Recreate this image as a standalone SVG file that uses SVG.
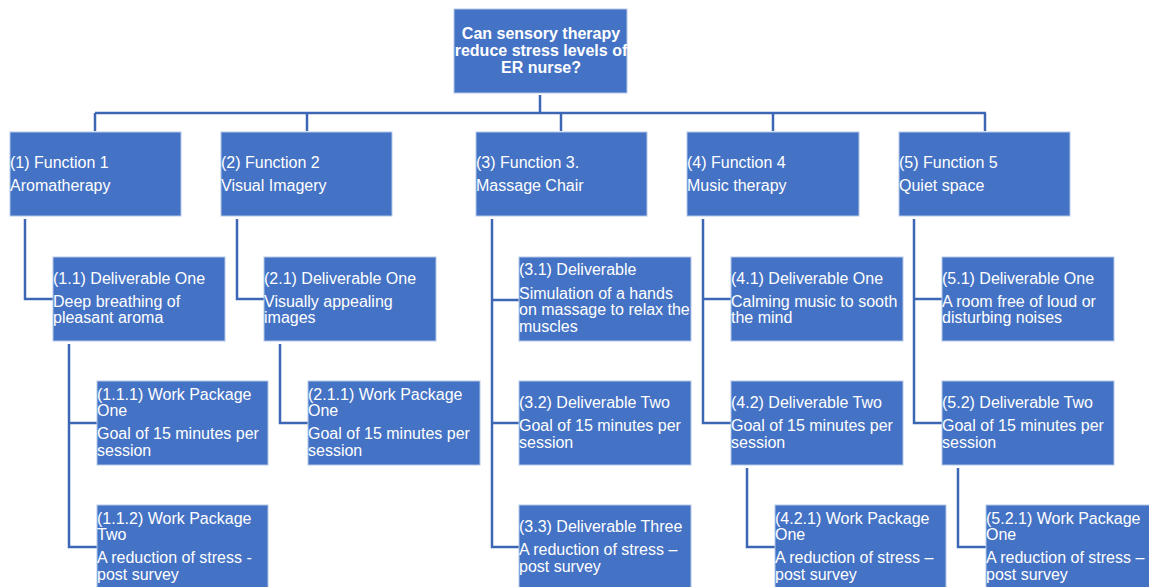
<svg xmlns="http://www.w3.org/2000/svg" width="1149" height="587" viewBox="0 0 1149 587">
<style>
.b{fill:#4472C4;stroke:#B4C7E7;stroke-width:1}
.t{font-family:"Liberation Sans",Arial,sans-serif;font-size:16px;fill:#fff}
.r{font-family:"Liberation Sans",Arial,sans-serif;font-size:16px;font-weight:bold;fill:#fff;text-anchor:middle}
.c{fill:none;stroke:#3D67B5;stroke-width:2.5}
</style>
<rect width="1149" height="587" fill="#fff"/>
<g id="connectors">
<path class="c" d="M540 95V113M95 113H986M95 113V131M307 113V131M561 113V131M773 113V131M985 113V131"/>
<path class="c" d="M25 219V299H53"/>
<path class="c" d="M69 344V547H97M69 423H97"/>
<path class="c" d="M237 219V299H264"/>
<path class="c" d="M280 344V423H308"/>
<path class="c" d="M492 219V547H519M492 300H519M492 423H519"/>
<path class="c" d="M703 219V423H731M703 299H731"/>
<path class="c" d="M747 468V547H775"/>
<path class="c" d="M914 219V423H942M914 299H942"/>
<path class="c" d="M958 468V547H986"/>
</g>
<g id="root"><rect class="b" x="454" y="9" width="173" height="84"/>
<text class="r" x="541" y="39">Can sensory therapy</text><text class="r" x="541" y="56">reduce stress levels of</text><text class="r" x="541" y="73">ER nurse?</text></g>
<g id="f1"><rect class="b" x="10" y="132" width="171" height="84"/><text class="t" x="10" y="168">(1) Function 1</text><text class="t" x="10" y="191">Aromatherapy</text></g>
<g id="f2"><rect class="b" x="221" y="132" width="171" height="84"/><text class="t" x="221" y="168">(2) Function 2</text><text class="t" x="221" y="191">Visual Imagery</text></g>
<g id="f3"><rect class="b" x="476" y="132" width="171" height="84"/><text class="t" x="476" y="168">(3) Function 3.</text><text class="t" x="476" y="191">Massage Chair</text></g>
<g id="f4"><rect class="b" x="687" y="132" width="172" height="84"/><text class="t" x="687" y="168">(4) Function 4</text><text class="t" x="687" y="191">Music therapy</text></g>
<g id="f5"><rect class="b" x="899" y="132" width="171" height="84"/><text class="t" x="899" y="168">(5) Function 5</text><text class="t" x="899" y="191">Quiet space</text></g>
<g id="d11"><rect class="b" x="53" y="257" width="172" height="84"/><text class="t" x="53" y="284">(1.1) Deliverable One</text><text class="t" x="53" y="307">Deep breathing of</text><text class="t" x="53" y="323">pleasant aroma</text></g>
<g id="d21"><rect class="b" x="264" y="257" width="172" height="84"/><text class="t" x="264" y="284">(2.1) Deliverable One</text><text class="t" x="264" y="307">Visually appealing</text><text class="t" x="264" y="323">images</text></g>
<g id="d31"><rect class="b" x="519" y="257" width="172" height="84"/><text class="t" x="519" y="275">(3.1) Deliverable</text><text class="t" x="519" y="299">Simulation of a hands</text><text class="t" x="519" y="315">on massage to relax the</text><text class="t" x="519" y="332">muscles</text></g>
<g id="d41"><rect class="b" x="731" y="257" width="172" height="84"/><text class="t" x="731" y="284">(4.1) Deliverable One</text><text class="t" x="731" y="307">Calming music to sooth</text><text class="t" x="731" y="323">the mind</text></g>
<g id="d51"><rect class="b" x="942" y="257" width="172" height="84"/><text class="t" x="942" y="284">(5.1) Deliverable One</text><text class="t" x="942" y="307">A room free of loud or</text><text class="t" x="942" y="323">disturbing noises</text></g>
<g id="w111"><rect class="b" x="97" y="381" width="171" height="84"/><text class="t" x="97" y="400">(1.1.1) Work Package</text><text class="t" x="97" y="416">One</text><text class="t" x="97" y="439">Goal of 15 minutes per</text><text class="t" x="97" y="456">session</text></g>
<g id="w211"><rect class="b" x="308" y="381" width="172" height="84"/><text class="t" x="308" y="400">(2.1.1) Work Package</text><text class="t" x="308" y="416">One</text><text class="t" x="308" y="439">Goal of 15 minutes per</text><text class="t" x="308" y="456">session</text></g>
<g id="d32"><rect class="b" x="519" y="381" width="172" height="84"/><text class="t" x="519" y="408">(3.2) Deliverable Two</text><text class="t" x="519" y="431">Goal of 15 minutes per</text><text class="t" x="519" y="448">session</text></g>
<g id="d42"><rect class="b" x="731" y="381" width="172" height="84"/><text class="t" x="731" y="408">(4.2) Deliverable Two</text><text class="t" x="731" y="431">Goal of 15 minutes per</text><text class="t" x="731" y="448">session</text></g>
<g id="d52"><rect class="b" x="942" y="381" width="172" height="84"/><text class="t" x="942" y="408">(5.2) Deliverable Two</text><text class="t" x="942" y="431">Goal of 15 minutes per</text><text class="t" x="942" y="448">session</text></g>
<g id="w112"><rect class="b" x="97" y="505" width="171" height="84"/><text class="t" x="97" y="524">(1.1.2) Work Package</text><text class="t" x="97" y="540">Two</text><text class="t" x="97" y="563">A reduction of stress -</text><text class="t" x="97" y="580">post survey</text></g>
<g id="d33"><rect class="b" x="519" y="505" width="172" height="84"/><text class="t" x="519" y="532">(3.3) Deliverable Three</text><text class="t" x="519" y="555">A reduction of stress –</text><text class="t" x="519" y="572">post survey</text></g>
<g id="w421"><rect class="b" x="775" y="505" width="171" height="84"/><text class="t" x="775" y="524">(4.2.1) Work Package</text><text class="t" x="775" y="540">One</text><text class="t" x="775" y="563">A reduction of stress –</text><text class="t" x="775" y="580">post survey</text></g>
<g id="w521"><rect class="b" x="986" y="505" width="172" height="84"/><text class="t" x="986" y="524">(5.2.1) Work Package</text><text class="t" x="986" y="540">One</text><text class="t" x="986" y="563">A reduction of stress –</text><text class="t" x="986" y="580">post survey</text></g>
</svg>
